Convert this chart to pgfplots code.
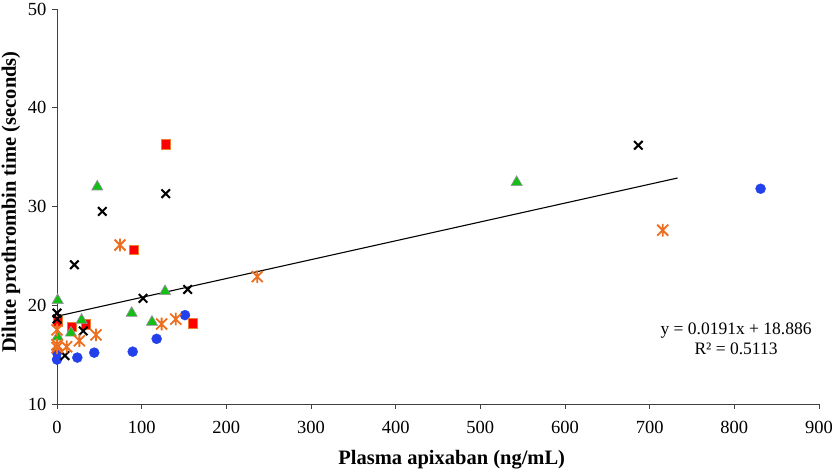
\documentclass[border=0pt]{standalone}
\usepackage{fontspec}
\setmainfont{Liberation Serif}
\usepackage{pgfplots}
\pgfplotsset{compat=1.18}
\definecolor{cblue}{RGB}{35,65,235}
\definecolor{cred}{RGB}{255,0,0}
\definecolor{credge}{RGB}{237,125,49}
\definecolor{cgreen}{RGB}{20,190,20}
\definecolor{cgedge}{RGB}{160,140,170}
\definecolor{corange}{RGB}{237,110,30}
\pgfdeclareplotmark{xstar}{%
  \pgfpathmoveto{\pgfqpoint{-\pgfplotmarksize}{-\pgfplotmarksize}}%
  \pgfpathlineto{\pgfqpoint{\pgfplotmarksize}{\pgfplotmarksize}}%
  \pgfpathmoveto{\pgfqpoint{-\pgfplotmarksize}{\pgfplotmarksize}}%
  \pgfpathlineto{\pgfqpoint{\pgfplotmarksize}{-\pgfplotmarksize}}%
  \pgfpathmoveto{\pgfqpoint{0pt}{-1.15\pgfplotmarksize}}%
  \pgfpathlineto{\pgfqpoint{0pt}{1.15\pgfplotmarksize}}%
  \pgfusepathqstroke}
\begin{document}
\begin{tikzpicture}
\begin{axis}[
  scale only axis,
  width=762bp, height=395bp,
  xmin=0, xmax=900, ymin=10, ymax=50,
  xtick={0,100,...,900}, ytick={10,20,...,50},
  axis lines*=left,
  axis line style={line width=0.8bp, black!75},
  tick style={line width=0.8bp, black!75},
  tick align=outside,
  major tick length=5bp,
  clip=false,
  /pgf/number format/assume math mode=true,
  ticklabel style={font=\fontsize{18.5bp}{20bp}\selectfont},
  xticklabel style={yshift=-9bp},
  yticklabel style={xshift=-2bp},
  xlabel={\textbf{Plasma apixaban (ng/mL)}},
  ylabel={\textbf{Dilute prothrombin time (seconds)}},
  label style={font=\fontsize{20.5bp}{22bp}\selectfont},
  xlabel style={at={(axis description cs:0.518,-0.142)},anchor=center},
  ylabel style={at={(axis description cs:-0.0604,0.511)},anchor=center},
]
% trend line
\addplot[black, line width=1.1bp, no marks] coordinates {(0,18.886) (733,32.886)};
% blue circles
\addplot[only marks, mark=*, mark size=5bp, mark options={fill=cblue, draw=cblue}] coordinates {
(0,14.5) (0,15.2) (24,14.7) (44,15.2) (89.4,15.3) (117.7,16.6) (151.2,19.0) (831,31.8)};
% red squares
\addplot[only marks, mark=square*, mark size=4.8bp, mark options={fill=cred, draw=credge, line width=0.6bp}] coordinates {
(128.4,36.3) (90.5,25.6) (160.2,18.2) (17.3,17.8) (34,18.1) (1,18.4)};
% green triangles
\addplot[only marks, mark=triangle*, mark size=6.5bp, mark options={fill=cgreen, draw=cgedge, line width=0.6bp}] coordinates {
(0.8,20.5) (47.6,32.0) (127.6,21.4) (88.2,19.2) (112.2,18.3) (29,18.5) (16.5,17.2) (0.8,16.8) (542.9,32.45)};
% black crosses
\addplot[only marks, mark=x, mark size=6bp, mark options={draw=black, line width=2bp}] coordinates {
(0,19.2) (0,18.6) (9.4,14.9) (20.5,24.1) (53.5,29.5) (128.4,31.3) (101.6,20.7) (154.3,21.6) (31,17.4) (686.6,36.2)};
% orange stars
\addplot[only marks, mark=xstar, mark size=5.5bp, mark options={draw=corange, line width=1.8bp}] coordinates {
(74.4,26.1) (236.6,22.9) (140.2,18.6) (123.6,18.1) (46,17.0) (26.4,16.4) (11.4,15.8) (0,17.5) (0,16.0) (0,15.7) (715.4,27.6)};
\node[align=center, font=\fontsize{17.5bp}{20bp}\selectfont] at (axis cs:802,16.65) {y = 0.0191x + 18.886\\R² = 0.5113};
\end{axis}
\pgfresetboundingbox
\path (-57bp,-70bp) rectangle (779bp,404bp);
\end{tikzpicture}
\end{document}
